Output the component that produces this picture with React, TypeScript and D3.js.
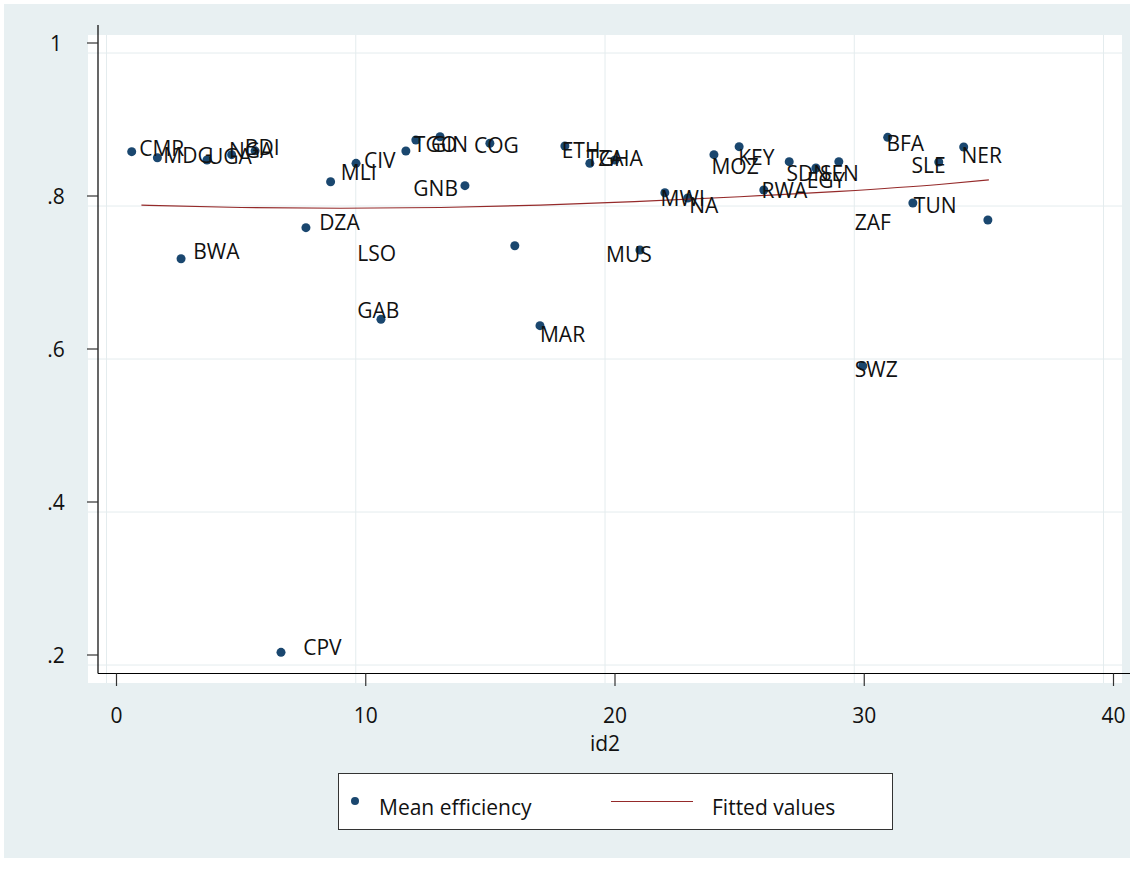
import React from "react";
import * as d3 from "d3";

// Scatter data (id2, mean efficiency, country code)
const ids = [0.61, 1.64, 2.59, 3.63, 4.62, 5.56, 6.6, 7.6, 8.59, 9.61, 10.61, 11.61, 12.01, 12.98, 13.98, 14.98, 15.98, 16.99, 17.99, 18.99, 20.0, 21.0, 22.0, 22.92, 23.97, 24.98, 25.97, 26.99, 28.06, 28.98, 29.94, 30.94, 31.95, 32.99, 33.99, 34.96];
const efficiency = [0.858, 0.850, 0.718, 0.847, 0.854, 0.859, 0.2035, 0.7586, 0.8187, 0.8427, 0.6388, 0.8588, 0.8732, 0.8775, 0.8135, 0.8689, 0.735, 0.6305, 0.8654, 0.8427, 0.847, 0.7294, 0.8043, 0.7974, 0.854, 0.8645, 0.8078, 0.8449, 0.8366, 0.8449, 0.5778, 0.8767, 0.7908, 0.8444, 0.864, 0.7686];
const codes = ["CMR", "MDG", "BWA", "UGA", "NGA", "BDI", "CPV", "DZA", "MLI", "CIV", "GAB", "TGO", "", "GIN", "GNB", "COG", "LSO", "MAR", "ETH", "TZA", "GHA", "MUS", "MWI", "NA", "MOZ", "KEY", "RWA", "SDN", "EGY", "SEN", "SWZ", "BFA", "TUN", "SLE", "NER", "ZAF"];
// Where each marker label sits, in data units
const labelIds = [0.91, 1.88, 3.08, 3.67, 4.51, 5.15, 7.49, 8.13, 9.0, 9.93, 9.66, 11.93, 0, 12.62, 11.91, 14.34, 9.66, 16.99, 17.86, 18.86, 19.35, 19.64, 21.83, 22.98, 23.87, 24.94, 25.88, 26.88, 27.69, 28.22, 29.62, 30.89, 31.99, 31.9, 33.9, 29.62];
const labelEffs = [0.8627, 0.8536, 0.727, 0.8523, 0.8601, 0.8634, 0.2098, 0.766, 0.8307, 0.8471, 0.651, 0.868, 0, 0.868, 0.8094, 0.8656, 0.7246, 0.619, 0.8601, 0.8493, 0.8493, 0.7239, 0.7963, 0.7882, 0.8383, 0.8499, 0.8068, 0.8292, 0.8199, 0.8292, 0.5732, 0.8684, 0.7876, 0.8395, 0.8536, 0.7654];

// Fitted values
const fitIds = [1, 5, 9, 13, 17, 21, 25, 29, 33, 35];
const fitVals = [0.788, 0.785, 0.784, 0.785, 0.788, 0.793, 0.799, 0.806, 0.815, 0.821];

const xTicks = [0, 10, 20, 30, 40];
const yTicks = [0.2, 0.4, 0.6, 0.8, 1];

const FONT = "'Open Sans', 'Noto Sans', sans-serif";
const NAVY = "#1a476f";
const RED = "#952a2a";
const FS = 21;

export default function App() {
  const x = d3.scaleLinear().domain([0, 40]).range([116.5, 1113.5]);
  const y = d3.scaleLinear().domain([0.2, 1]).range([655, 43]);
  // gridlines are drawn slightly offset from the ticks, as in the reference
  const gx = d3.scaleLinear().domain([0, 40]).range([106.5, 1103.5]);
  const gy = d3.scaleLinear().domain([0.2, 1]).range([665, 53]);

  const line = d3
    .line<number>()
    .x((_, i) => x(fitIds[i]))
    .y((d) => y(d))
    .curve(d3.curveMonotoneX);

  const fmtY = (t: number) => (t === 1 ? "1" : d3.format(".1f")(t).replace(/^0/, ""));

  return (
    <svg
      width={1143}
      height={878}
      style={{ position: "absolute", left: 0, top: 0, background: "#ffffff" }}
      fontFamily={FONT}
    >
      <rect x={4} y={4} width={1126} height={854} fill="#e8f0f2" />
      <rect x={88} y={35} width={1034} height={648} fill="#ffffff" />
      {xTicks.map((t) => (
        <line key={"gx" + t} x1={gx(t)} x2={gx(t)} y1={35} y2={683} stroke="#e4ecee" strokeWidth={1} />
      ))}
      {yTicks.map((t) => (
        <line key={"gy" + t} x1={88} x2={1122} y1={gy(t)} y2={gy(t)} stroke="#e4ecee" strokeWidth={1} />
      ))}
      {ids.map((d, i) => (
        <circle key={"p" + i} cx={x(d)} cy={y(efficiency[i])} r={4.5} fill={NAVY} />
      ))}
      <path d={line(fitVals) || ""} fill="none" stroke={RED} strokeWidth={1.2} />
      {codes.map((c, i) =>
        c ? (
          <text key={"l" + i} x={x(labelIds[i])} y={y(labelEffs[i])} dy="0.36em" fontSize={FS} fill="#111">
            {c}
          </text>
        ) : null
      )}
      {/* axes */}
      <line x1={98} x2={98} y1={25} y2={673.5} stroke="#000" strokeWidth={1.2} />
      <line x1={98} x2={1130} y1={673.5} y2={673.5} stroke="#000" strokeWidth={1.2} />
      {yTicks.map((t) => (
        <g key={"yt" + t}>
          <line x1={87} x2={98} y1={y(t)} y2={y(t)} stroke="#333" strokeWidth={1.2} />
          <text x={56} y={y(t)} dy="0.36em" textAnchor="middle" fontSize={FS} fill="#111">
            {fmtY(t)}
          </text>
        </g>
      ))}
      {xTicks.map((t) => (
        <g key={"xt" + t}>
          <line x1={x(t)} x2={x(t)} y1={673.5} y2={686} stroke="#333" strokeWidth={1.2} />
          <text x={x(t)} y={715} dy="0.36em" textAnchor="middle" fontSize={FS} fill="#111">
            {t}
          </text>
        </g>
      ))}
      <text x={605} y={743} dy="0.36em" textAnchor="middle" fontSize={FS} fill="#111">
        id2
      </text>
      {/* legend */}
      <rect x={338.5} y={773.5} width={554} height={56} fill="#ffffff" stroke="#333" strokeWidth={1} />
      <circle cx={355} cy={801} r={4} fill={NAVY} />
      <text x={379} y={807} dy="0.36em" fontSize={FS} fill="#111">
        Mean efficiency
      </text>
      <line x1={611} x2={693} y1={801.5} y2={801.5} stroke={RED} strokeWidth={1.2} />
      <text x={712} y={807} dy="0.36em" fontSize={FS} fill="#111">
        Fitted values
      </text>
    </svg>
  );
}
